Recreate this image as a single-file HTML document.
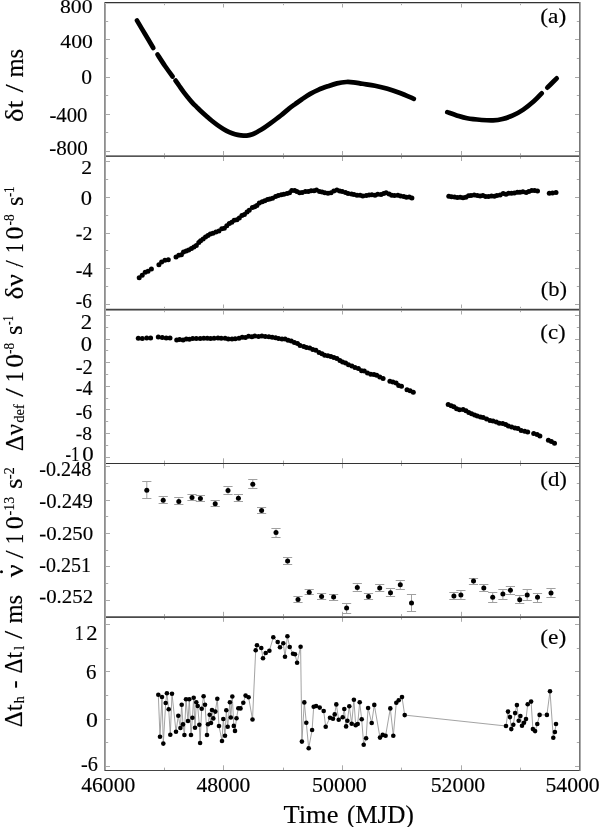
<!DOCTYPE html>
<html><head><meta charset="utf-8"><style>
html,body{margin:0;padding:0;background:#fff;width:600px;height:827px;overflow:hidden;}
body{position:relative;font-family:"Liberation Serif",serif;}
svg{will-change:transform;}
</style></head><body>
<svg width="600" height="827" viewBox="0 0 600 827" style="position:absolute;left:0;top:0"><rect width="600" height="827" fill="#fff"/><path d="M164.5,2.5v2.7M223.5,2.5v5M283.5,2.5v2.7M342.5,2.5v5M401.5,2.5v2.7M461.5,2.5v5M520.5,2.5v2.7M164.5,156.0v-2.7M164.5,156.0v2.7M223.5,156.0v-5M223.5,156.0v5M283.5,156.0v-2.7M283.5,156.0v2.7M342.5,156.0v-5M342.5,156.0v5M401.5,156.0v-2.7M401.5,156.0v2.7M461.5,156.0v-5M461.5,156.0v5M520.5,156.0v-2.7M520.5,156.0v2.7M164.5,309.5v-2.7M164.5,309.5v2.7M223.5,309.5v-5M223.5,309.5v5M283.5,309.5v-2.7M283.5,309.5v2.7M342.5,309.5v-5M342.5,309.5v5M401.5,309.5v-2.7M401.5,309.5v2.7M461.5,309.5v-5M461.5,309.5v5M520.5,309.5v-2.7M520.5,309.5v2.7M164.5,463.3v-2.7M164.5,463.3v2.7M223.5,463.3v-5M223.5,463.3v5M283.5,463.3v-2.7M283.5,463.3v2.7M342.5,463.3v-5M342.5,463.3v5M401.5,463.3v-2.7M401.5,463.3v2.7M461.5,463.3v-5M461.5,463.3v5M520.5,463.3v-2.7M520.5,463.3v2.7M164.5,616.8v-2.7M164.5,616.8v2.7M223.5,616.8v-5M223.5,616.8v5M283.5,616.8v-2.7M283.5,616.8v2.7M342.5,616.8v-5M342.5,616.8v5M401.5,616.8v-2.7M401.5,616.8v2.7M461.5,616.8v-5M461.5,616.8v5M520.5,616.8v-2.7M520.5,616.8v2.7M164.5,770.3v-2.7M223.5,770.3v-5M283.5,770.3v-2.7M342.5,770.3v-5M401.5,770.3v-2.7M461.5,770.3v-5M520.5,770.3v-2.7M106,2.5h4M579,2.5h-4M106,21.5h2.2M579,21.5h-2.2M106,39.5h4M579,39.5h-4M106,58.5h2.2M579,58.5h-2.2M106,77.5h4M579,77.5h-4M106,95.5h2.2M579,95.5h-2.2M106,114.5h4M579,114.5h-4M106,132.5h2.2M579,132.5h-2.2M106,151.5h4M579,151.5h-4M106,161.5h4M579,161.5h-4M106,179.5h2.2M579,179.5h-2.2M106,197.5h4M579,197.5h-4M106,215.5h2.2M579,215.5h-2.2M106,233.5h4M579,233.5h-4M106,250.5h2.2M579,250.5h-2.2M106,268.5h4M579,268.5h-4M106,286.5h2.2M579,286.5h-2.2M106,304.5h4M579,304.5h-4M106,315.5h4M579,315.5h-4M106,327.5h2.2M579,327.5h-2.2M106,339.5h4M579,339.5h-4M106,350.5h2.2M579,350.5h-2.2M106,362.5h4M579,362.5h-4M106,374.5h2.2M579,374.5h-2.2M106,386.5h4M579,386.5h-4M106,398.5h2.2M579,398.5h-2.2M106,409.5h4M579,409.5h-4M106,421.5h2.2M579,421.5h-2.2M106,433.5h4M579,433.5h-4M106,445.5h2.2M579,445.5h-2.2M106,457.5h4M579,457.5h-4M106,466.5h4M579,466.5h-4M106,483.5h2.2M579,483.5h-2.2M106,500.5h4M579,500.5h-4M106,516.5h2.2M579,516.5h-2.2M106,533.5h4M579,533.5h-4M106,550.5h2.2M579,550.5h-2.2M106,566.5h4M579,566.5h-4M106,583.5h2.2M579,583.5h-2.2M106,600.5h4M579,600.5h-4M106,624.5h4M579,624.5h-4M106,648.5h2.2M579,648.5h-2.2M106,671.5h4M579,671.5h-4M106,695.5h2.2M579,695.5h-2.2M106,719.5h4M579,719.5h-4M106,742.5h2.2M579,742.5h-2.2M106,766.5h4M579,766.5h-4" stroke="#aaa" stroke-width="1" fill="none"/><rect x="104" y="2" width="477" height="1" fill="#333"/><rect x="104" y="3" width="477" height="1" fill="#c8c8c8"/><rect x="104" y="155" width="477" height="1" fill="#8c8c8c"/><rect x="104" y="156" width="477" height="1" fill="#555"/><rect x="104" y="308" width="477" height="1" fill="#d0d0d0"/><rect x="104" y="309" width="477" height="1" fill="#444"/><rect x="104" y="310" width="477" height="1" fill="#9a9a9a"/><rect x="104" y="463" width="477" height="1" fill="#333"/><rect x="104" y="616" width="477" height="1" fill="#777"/><rect x="104" y="617" width="477" height="1" fill="#4a4a4a"/><rect x="104" y="770" width="477" height="1" fill="#444"/><rect x="104" y="2" width="1" height="769" fill="#8e8e8e"/><rect x="105" y="4" width="1" height="766" fill="#a4a4a4"/><rect x="579" y="2" width="1" height="769" fill="#777"/><rect x="580" y="2" width="1" height="769" fill="#aaa"/><path d="M136.90,20.40C138.25,22.67 142.27,29.40 145.00,34.00C147.73,38.60 151.92,45.67 153.30,48.00" stroke="#000" stroke-width="4.7" stroke-linecap="round" fill="none"/><path d="M157.50,54.50C158.75,56.42 162.48,62.33 165.00,66.00C167.52,69.67 171.33,74.75 172.60,76.50" stroke="#000" stroke-width="4.7" stroke-linecap="round" fill="none"/><path d="M175.60,80.60C176.17,81.42 177.68,83.62 179.00,85.50C180.32,87.38 182.00,89.90 183.50,91.90C185.00,93.90 186.50,95.68 188.00,97.50C189.50,99.32 191.00,101.17 192.50,102.80C194.00,104.43 195.58,105.90 197.00,107.30C198.42,108.70 199.45,109.75 201.00,111.20C202.55,112.65 204.50,114.40 206.30,116.00C208.10,117.60 209.93,119.28 211.80,120.80C213.67,122.32 215.58,123.75 217.50,125.10C219.42,126.45 221.35,127.73 223.30,128.90C225.25,130.07 227.25,131.22 229.20,132.10C231.15,132.98 233.07,133.67 235.00,134.20C236.93,134.73 238.85,135.07 240.80,135.30C242.75,135.53 244.75,135.78 246.70,135.60C248.65,135.42 250.57,134.92 252.50,134.20C254.43,133.48 256.35,132.37 258.30,131.30C260.25,130.23 262.25,129.07 264.20,127.80C266.15,126.53 267.23,125.75 270.00,123.70C272.77,121.65 277.63,118.02 280.80,115.50C283.97,112.98 286.55,110.55 289.00,108.60C291.45,106.65 293.33,105.37 295.50,103.80C297.67,102.23 299.55,100.85 302.00,99.20C304.45,97.55 307.48,95.47 310.20,93.90C312.92,92.33 315.38,91.07 318.30,89.80C321.22,88.53 324.58,87.37 327.70,86.30C330.82,85.23 333.90,84.12 337.00,83.40C340.10,82.68 343.58,82.18 346.30,82.00C349.02,81.82 350.60,82.00 353.30,82.30C356.00,82.60 358.88,83.22 362.50,83.80C366.12,84.38 370.83,84.97 375.00,85.80C379.17,86.63 383.33,87.60 387.50,88.80C391.67,90.00 395.62,91.33 400.00,93.00C404.38,94.67 411.50,97.83 413.80,98.80" stroke="#000" stroke-width="4.7" stroke-linecap="round" fill="none"/><path d="M447.30,112.10C448.87,112.65 453.40,114.37 456.70,115.40C460.00,116.43 462.93,117.53 467.10,118.30C471.27,119.07 477.37,119.65 481.70,120.00C486.03,120.35 489.63,120.57 493.10,120.40C496.57,120.23 499.20,119.83 502.50,119.00C505.80,118.17 509.43,116.97 512.90,115.40C516.37,113.83 519.82,111.95 523.30,109.60C526.78,107.25 530.73,104.02 533.80,101.30C536.87,98.58 540.38,94.63 541.70,93.30" stroke="#000" stroke-width="4.7" stroke-linecap="round" fill="none"/><path d="M547.30,87.70C548.08,86.92 550.43,84.57 552.00,83.00C553.57,81.43 555.92,79.08 556.70,78.30" stroke="#000" stroke-width="4.7" stroke-linecap="round" fill="none"/><g fill="#000"><circle cx="139.2" cy="277.7" r="2.5"/><circle cx="142.2" cy="275.2" r="2.5"/><circle cx="145.2" cy="272.3" r="2.5"/><circle cx="148.0" cy="271.2" r="2.5"/><circle cx="151.4" cy="268.9" r="2.5"/><circle cx="158.9" cy="264.7" r="2.5"/><circle cx="161.6" cy="262.1" r="2.5"/><circle cx="164.9" cy="260.3" r="2.5"/><circle cx="168.3" cy="259.7" r="2.5"/><circle cx="176.0" cy="257.0" r="2.5"/><circle cx="178.8" cy="255.3" r="2.5"/><circle cx="181.4" cy="254.7" r="2.5"/><circle cx="183.5" cy="252.0" r="2.5"/><circle cx="186.2" cy="251.0" r="2.5"/><circle cx="188.7" cy="250.0" r="2.5"/><circle cx="191.4" cy="248.5" r="2.5"/><circle cx="193.9" cy="246.9" r="2.5"/><circle cx="196.3" cy="245.5" r="2.5"/><circle cx="198.8" cy="242.6" r="2.5"/><circle cx="200.6" cy="240.8" r="2.5"/><circle cx="203.1" cy="239.1" r="2.5"/><circle cx="205.5" cy="237.0" r="2.5"/><circle cx="207.9" cy="235.4" r="2.5"/><circle cx="210.3" cy="234.1" r="2.5"/><circle cx="212.9" cy="233.2" r="2.5"/><circle cx="215.9" cy="232.0" r="2.5"/><circle cx="218.9" cy="231.1" r="2.5"/><circle cx="221.8" cy="228.8" r="2.5"/><circle cx="224.3" cy="228.2" r="2.5"/><circle cx="226.8" cy="225.8" r="2.5"/><circle cx="229.3" cy="223.5" r="2.5"/><circle cx="231.8" cy="222.3" r="2.5"/><circle cx="234.2" cy="220.2" r="2.5"/><circle cx="236.9" cy="219.8" r="2.5"/><circle cx="239.3" cy="217.9" r="2.5"/><circle cx="241.9" cy="215.5" r="2.5"/><circle cx="244.4" cy="214.5" r="2.5"/><circle cx="247.0" cy="212.0" r="2.5"/><circle cx="249.2" cy="210.3" r="2.5"/><circle cx="252.4" cy="207.6" r="2.5"/><circle cx="254.7" cy="206.8" r="2.5"/><circle cx="256.9" cy="205.4" r="2.5"/><circle cx="259.3" cy="203.1" r="2.5"/><circle cx="262.2" cy="201.7" r="2.5"/><circle cx="264.8" cy="200.8" r="2.5"/><circle cx="267.5" cy="199.4" r="2.5"/><circle cx="269.8" cy="199.1" r="2.5"/><circle cx="272.5" cy="198.2" r="2.5"/><circle cx="275.6" cy="196.4" r="2.5"/><circle cx="278.3" cy="195.5" r="2.5"/><circle cx="281.3" cy="194.8" r="2.5"/><circle cx="283.9" cy="194.2" r="2.5"/><circle cx="287.0" cy="193.4" r="2.5"/><circle cx="289.5" cy="192.7" r="2.5"/><circle cx="291.8" cy="190.5" r="2.5"/><circle cx="294.7" cy="190.6" r="2.5"/><circle cx="296.9" cy="191.4" r="2.5"/><circle cx="299.6" cy="192.7" r="2.5"/><circle cx="302.2" cy="192.5" r="2.5"/><circle cx="305.4" cy="191.4" r="2.5"/><circle cx="308.3" cy="191.4" r="2.5"/><circle cx="311.1" cy="190.7" r="2.5"/><circle cx="314.0" cy="190.8" r="2.5"/><circle cx="316.5" cy="189.9" r="2.5"/><circle cx="319.5" cy="191.5" r="2.5"/><circle cx="322.1" cy="191.9" r="2.5"/><circle cx="324.9" cy="192.8" r="2.5"/><circle cx="328.0" cy="193.2" r="2.5"/><circle cx="331.0" cy="192.7" r="2.5"/><circle cx="333.8" cy="191.1" r="2.5"/><circle cx="336.9" cy="189.9" r="2.5"/><circle cx="339.7" cy="191.0" r="2.5"/><circle cx="342.3" cy="191.4" r="2.5"/><circle cx="345.5" cy="192.6" r="2.5"/><circle cx="348.1" cy="193.6" r="2.5"/><circle cx="351.5" cy="193.9" r="2.5"/><circle cx="354.0" cy="194.6" r="2.5"/><circle cx="357.0" cy="195.2" r="2.5"/><circle cx="360.1" cy="195.2" r="2.5"/><circle cx="362.8" cy="195.9" r="2.5"/><circle cx="366.2" cy="195.5" r="2.5"/><circle cx="369.1" cy="194.9" r="2.5"/><circle cx="371.9" cy="194.7" r="2.5"/><circle cx="375.0" cy="195.3" r="2.5"/><circle cx="377.7" cy="194.3" r="2.5"/><circle cx="381.0" cy="194.4" r="2.5"/><circle cx="383.7" cy="193.4" r="2.5"/><circle cx="386.1" cy="192.8" r="2.5"/><circle cx="389.1" cy="194.0" r="2.5"/><circle cx="391.7" cy="195.3" r="2.5"/><circle cx="394.5" cy="195.6" r="2.5"/><circle cx="397.9" cy="195.2" r="2.5"/><circle cx="400.6" cy="196.1" r="2.5"/><circle cx="403.8" cy="196.6" r="2.5"/><circle cx="406.4" cy="197.3" r="2.5"/><circle cx="409.3" cy="197.0" r="2.5"/><circle cx="411.9" cy="198.1" r="2.5"/><circle cx="448.8" cy="196.3" r="2.5"/><circle cx="451.5" cy="196.7" r="2.5"/><circle cx="454.5" cy="196.9" r="2.5"/><circle cx="457.3" cy="197.5" r="2.5"/><circle cx="460.2" cy="197.3" r="2.5"/><circle cx="463.0" cy="197.7" r="2.5"/><circle cx="465.8" cy="197.2" r="2.5"/><circle cx="468.5" cy="195.7" r="2.5"/><circle cx="471.0" cy="195.4" r="2.5"/><circle cx="474.2" cy="194.9" r="2.5"/><circle cx="477.3" cy="195.4" r="2.5"/><circle cx="480.1" cy="196.1" r="2.5"/><circle cx="482.9" cy="195.5" r="2.5"/><circle cx="485.6" cy="196.4" r="2.5"/><circle cx="488.5" cy="196.6" r="2.5"/><circle cx="491.5" cy="196.0" r="2.5"/><circle cx="494.4" cy="196.3" r="2.5"/><circle cx="496.9" cy="195.4" r="2.5"/><circle cx="500.1" cy="194.9" r="2.5"/><circle cx="503.2" cy="193.5" r="2.5"/><circle cx="506.0" cy="194.2" r="2.5"/><circle cx="508.6" cy="193.2" r="2.5"/><circle cx="511.5" cy="193.2" r="2.5"/><circle cx="514.4" cy="193.0" r="2.5"/><circle cx="517.4" cy="192.2" r="2.5"/><circle cx="520.0" cy="192.2" r="2.5"/><circle cx="522.9" cy="191.8" r="2.5"/><circle cx="526.2" cy="192.4" r="2.5"/><circle cx="528.8" cy="191.4" r="2.5"/><circle cx="531.7" cy="190.5" r="2.5"/><circle cx="534.6" cy="190.6" r="2.5"/><circle cx="537.5" cy="190.9" r="2.5"/><circle cx="549.3" cy="193.2" r="2.5"/><circle cx="552.5" cy="193.1" r="2.5"/><circle cx="556.0" cy="192.5" r="2.5"/></g><g fill="#000"><circle cx="138.3" cy="338.2" r="2.5"/><circle cx="142.3" cy="338.5" r="2.5"/><circle cx="146.7" cy="338.0" r="2.5"/><circle cx="150.6" cy="338.0" r="2.5"/><circle cx="158.3" cy="337.0" r="2.5"/><circle cx="162.3" cy="337.6" r="2.5"/><circle cx="166.2" cy="338.0" r="2.5"/><circle cx="170.0" cy="337.9" r="2.5"/><circle cx="176.7" cy="339.9" r="2.5"/><circle cx="179.6" cy="339.5" r="2.5"/><circle cx="183.1" cy="339.9" r="2.5"/><circle cx="186.3" cy="339.1" r="2.5"/><circle cx="189.4" cy="339.3" r="2.5"/><circle cx="192.7" cy="338.6" r="2.5"/><circle cx="196.3" cy="338.6" r="2.5"/><circle cx="200.2" cy="338.5" r="2.5"/><circle cx="203.8" cy="338.2" r="2.5"/><circle cx="207.3" cy="338.3" r="2.5"/><circle cx="210.6" cy="338.5" r="2.5"/><circle cx="214.1" cy="338.2" r="2.5"/><circle cx="218.0" cy="338.1" r="2.5"/><circle cx="221.2" cy="338.2" r="2.5"/><circle cx="225.1" cy="338.3" r="2.5"/><circle cx="228.3" cy="339.0" r="2.5"/><circle cx="232.0" cy="338.9" r="2.5"/><circle cx="235.2" cy="338.7" r="2.5"/><circle cx="239.0" cy="338.2" r="2.5"/><circle cx="242.2" cy="337.3" r="2.5"/><circle cx="245.4" cy="337.4" r="2.5"/><circle cx="248.6" cy="336.3" r="2.5"/><circle cx="251.9" cy="336.8" r="2.5"/><circle cx="254.8" cy="335.9" r="2.5"/><circle cx="258.5" cy="336.5" r="2.5"/><circle cx="261.9" cy="335.9" r="2.5"/><circle cx="265.3" cy="336.6" r="2.5"/><circle cx="268.9" cy="336.7" r="2.5"/><circle cx="272.2" cy="337.2" r="2.5"/><circle cx="275.6" cy="337.8" r="2.5"/><circle cx="278.6" cy="338.4" r="2.5"/><circle cx="282.0" cy="338.9" r="2.5"/><circle cx="285.1" cy="339.1" r="2.5"/><circle cx="288.1" cy="340.2" r="2.5"/><circle cx="291.3" cy="340.9" r="2.5"/><circle cx="294.4" cy="342.6" r="2.5"/><circle cx="297.5" cy="343.4" r="2.5"/><circle cx="300.1" cy="345.4" r="2.5"/><circle cx="303.8" cy="346.4" r="2.5"/><circle cx="306.5" cy="347.6" r="2.5"/><circle cx="309.7" cy="348.1" r="2.5"/><circle cx="312.8" cy="349.5" r="2.5"/><circle cx="315.9" cy="350.3" r="2.5"/><circle cx="319.1" cy="352.5" r="2.5"/><circle cx="322.0" cy="353.7" r="2.5"/><circle cx="324.7" cy="355.2" r="2.5"/><circle cx="327.9" cy="355.8" r="2.5"/><circle cx="330.9" cy="356.4" r="2.5"/><circle cx="333.9" cy="357.6" r="2.5"/><circle cx="336.9" cy="358.5" r="2.5"/><circle cx="339.9" cy="360.4" r="2.5"/><circle cx="342.6" cy="362.0" r="2.5"/><circle cx="345.6" cy="363.0" r="2.5"/><circle cx="348.5" cy="364.7" r="2.5"/><circle cx="351.9" cy="365.9" r="2.5"/><circle cx="355.0" cy="367.6" r="2.5"/><circle cx="358.4" cy="368.6" r="2.5"/><circle cx="361.6" cy="370.7" r="2.5"/><circle cx="364.3" cy="371.0" r="2.5"/><circle cx="367.5" cy="372.9" r="2.5"/><circle cx="370.8" cy="374.3" r="2.5"/><circle cx="374.0" cy="374.4" r="2.5"/><circle cx="376.7" cy="375.3" r="2.5"/><circle cx="379.8" cy="376.9" r="2.5"/><circle cx="383.1" cy="378.6" r="2.5"/><circle cx="389.9" cy="381.2" r="2.5"/><circle cx="392.9" cy="382.0" r="2.5"/><circle cx="396.1" cy="383.0" r="2.5"/><circle cx="398.7" cy="385.4" r="2.5"/><circle cx="401.5" cy="386.2" r="2.5"/><circle cx="407.0" cy="389.8" r="2.5"/><circle cx="410.1" cy="390.8" r="2.5"/><circle cx="413.3" cy="392.3" r="2.5"/><circle cx="448.2" cy="404.5" r="2.5"/><circle cx="451.2" cy="405.7" r="2.5"/><circle cx="453.9" cy="406.8" r="2.5"/><circle cx="456.6" cy="408.7" r="2.5"/><circle cx="459.5" cy="409.8" r="2.5"/><circle cx="463.1" cy="409.5" r="2.5"/><circle cx="466.0" cy="410.8" r="2.5"/><circle cx="468.8" cy="412.5" r="2.5"/><circle cx="471.6" cy="413.7" r="2.5"/><circle cx="474.6" cy="415.1" r="2.5"/><circle cx="477.3" cy="416.0" r="2.5"/><circle cx="480.5" cy="417.0" r="2.5"/><circle cx="483.2" cy="417.4" r="2.5"/><circle cx="486.6" cy="418.9" r="2.5"/><circle cx="490.0" cy="420.5" r="2.5"/><circle cx="493.0" cy="420.9" r="2.5"/><circle cx="496.4" cy="421.9" r="2.5"/><circle cx="499.3" cy="423.2" r="2.5"/><circle cx="502.7" cy="423.4" r="2.5"/><circle cx="505.7" cy="424.4" r="2.5"/><circle cx="508.4" cy="426.1" r="2.5"/><circle cx="511.7" cy="426.9" r="2.5"/><circle cx="515.0" cy="427.9" r="2.5"/><circle cx="518.0" cy="428.6" r="2.5"/><circle cx="521.2" cy="430.4" r="2.5"/><circle cx="524.7" cy="431.3" r="2.5"/><circle cx="527.7" cy="432.0" r="2.5"/><circle cx="533.7" cy="433.4" r="2.5"/><circle cx="537.1" cy="434.4" r="2.5"/><circle cx="539.9" cy="435.9" r="2.5"/><circle cx="548.4" cy="440.2" r="2.5"/><circle cx="551.4" cy="441.6" r="2.5"/><circle cx="554.5" cy="443.2" r="2.5"/></g><path d="M146.8,481.5V498.5M142.2,481.5h9.2M142.2,498.5h9.2M163.2,496.5V503.5M158.6,496.5h9.2M158.6,503.5h9.2M178.8,497.5V504.5M174.2,497.5h9.2M174.2,504.5h9.2M192.0,494.5V500.5M187.4,494.5h9.2M187.4,500.5h9.2M200.4,495.5V501.5M195.8,495.5h9.2M195.8,501.5h9.2M215.2,500.5V506.5M210.6,500.5h9.2M210.6,506.5h9.2M228.0,486.5V494.5M223.4,486.5h9.2M223.4,494.5h9.2M238.4,494.5V501.5M233.8,494.5h9.2M233.8,501.5h9.2M252.8,479.5V488.5M248.2,479.5h9.2M248.2,488.5h9.2M261.6,507.5V513.5M257.0,507.5h9.2M257.0,513.5h9.2M276.0,528.5V537.5M271.4,528.5h9.2M271.4,537.5h9.2M287.6,557.5V564.5M283.0,557.5h9.2M283.0,564.5h9.2M298.0,596.5V602.5M293.4,596.5h9.2M293.4,602.5h9.2M309.2,589.5V594.5M304.6,589.5h9.2M304.6,594.5h9.2M321.6,593.5V599.5M317.0,593.5h9.2M317.0,599.5h9.2M333.6,594.5V600.5M329.0,594.5h9.2M329.0,600.5h9.2M346.6,603.5V613.5M342.0,603.5h9.2M342.0,613.5h9.2M357.3,583.5V591.5M352.7,583.5h9.2M352.7,591.5h9.2M368.5,593.5V599.5M363.9,593.5h9.2M363.9,599.5h9.2M379.7,584.5V591.5M375.1,584.5h9.2M375.1,591.5h9.2M390.5,588.5V596.5M385.9,588.5h9.2M385.9,596.5h9.2M400.3,580.5V589.5M395.7,580.5h9.2M395.7,589.5h9.2M411.5,594.5V611.5M406.9,594.5h9.2M406.9,611.5h9.2M453.9,592.5V599.5M449.3,592.5h9.2M449.3,599.5h9.2M460.9,590.5V599.5M456.3,590.5h9.2M456.3,599.5h9.2M473.5,578.5V584.5M468.9,578.5h9.2M468.9,584.5h9.2M483.8,584.5V591.5M479.2,584.5h9.2M479.2,591.5h9.2M492.7,592.5V602.5M488.1,592.5h9.2M488.1,602.5h9.2M502.9,589.5V599.5M498.3,589.5h9.2M498.3,599.5h9.2M510.4,586.5V594.5M505.8,586.5h9.2M505.8,594.5h9.2M519.7,595.5V603.5M515.1,595.5h9.2M515.1,603.5h9.2M527.2,589.5V600.5M522.6,589.5h9.2M522.6,600.5h9.2M537.5,593.5V602.5M532.9,593.5h9.2M532.9,602.5h9.2M551.0,588.5V597.5M546.4,588.5h9.2M546.4,597.5h9.2" stroke="#a0a0a0" stroke-width="1" fill="none"/><g fill="#000"><circle cx="146.8" cy="490.2" r="2.5"/><circle cx="163.2" cy="500.2" r="2.5"/><circle cx="178.8" cy="501.4" r="2.5"/><circle cx="192.0" cy="497.4" r="2.5"/><circle cx="200.4" cy="498.6" r="2.5"/><circle cx="215.2" cy="503.8" r="2.5"/><circle cx="228.0" cy="490.6" r="2.5"/><circle cx="238.4" cy="498.2" r="2.5"/><circle cx="252.8" cy="484.2" r="2.5"/><circle cx="261.6" cy="510.6" r="2.5"/><circle cx="276.0" cy="532.6" r="2.5"/><circle cx="287.6" cy="561.0" r="2.5"/><circle cx="298.0" cy="599.4" r="2.5"/><circle cx="309.2" cy="592.2" r="2.5"/><circle cx="321.6" cy="596.6" r="2.5"/><circle cx="333.6" cy="597.0" r="2.5"/><circle cx="346.6" cy="608.1" r="2.5"/><circle cx="357.3" cy="587.5" r="2.5"/><circle cx="368.5" cy="596.4" r="2.5"/><circle cx="379.7" cy="588.0" r="2.5"/><circle cx="390.5" cy="592.7" r="2.5"/><circle cx="400.3" cy="584.7" r="2.5"/><circle cx="411.5" cy="602.9" r="2.5"/><circle cx="453.9" cy="595.9" r="2.5"/><circle cx="460.9" cy="595.0" r="2.5"/><circle cx="473.5" cy="581.0" r="2.5"/><circle cx="483.8" cy="588.0" r="2.5"/><circle cx="492.7" cy="597.3" r="2.5"/><circle cx="502.9" cy="594.0" r="2.5"/><circle cx="510.4" cy="590.3" r="2.5"/><circle cx="519.7" cy="599.7" r="2.5"/><circle cx="527.2" cy="595.0" r="2.5"/><circle cx="537.5" cy="597.3" r="2.5"/><circle cx="551.0" cy="593.1" r="2.5"/></g><path d="M158.3,694.7L160.0,736.7L162.0,697.0L163.3,743.6L165.7,703.0L166.9,693.3L168.7,709.3L170.3,734.7L172.0,693.7L176.0,731.7L178.3,715.7L180.4,728.0L181.7,704.8L183.0,724.4L184.4,735.0L186.0,699.3L188.0,721.0L189.3,699.3L191.0,735.0L192.4,717.7L193.7,697.7L195.0,727.7L196.3,702.3L197.7,706.0L199.3,724.7L200.1,743.0L201.7,708.7L203.6,696.3L205.0,704.7L207.0,735.0L208.0,724.3L209.7,714.7L211.0,723.0L212.0,710.0L213.3,718.4L215.3,711.6L217.3,698.7L219.0,726.0L222.0,741.0L223.3,719.0L225.0,735.7L226.3,710.3L227.7,726.7L229.9,702.2L230.8,717.5L232.3,696.5L233.8,725.9L235.0,730.9L236.5,718.3L238.3,708.3L240.5,708.4L243.3,702.8L245.6,695.6L248.6,697.3L252.5,719.5L255.7,650.3L257.0,645.3L261.3,648.0L263.0,658.3L265.7,653.0L269.4,650.7L273.3,637.3L277.7,642.0L280.0,647.3L283.3,643.3L285.0,656.7L287.4,636.3L289.7,647.0L293.0,653.7L295.0,654.3L297.1,662.7L300.6,646.8L301.9,741.6L304.3,702.4L306.3,722.7L308.7,748.3L312.1,730.0L313.7,706.7L316.1,706.0L319.7,707.6L323.7,711.0L325.7,726.7L330.0,717.7L333.0,718.7L334.7,714.4L336.3,704.4L338.7,719.7L342.7,717.3L344.3,709.0L346.1,726.4L347.4,720.7L349.3,706.3L351.7,723.7L353.9,699.7L355.7,725.3L357.7,724.0L359.7,702.3L361.7,719.3L363.7,744.7L366.1,738.3L368.1,708.0L371.7,723.0L374.3,704.9L380.0,737.6L382.7,734.9L385.6,735.7L390.3,708.4L393.3,735.7L396.3,702.7L398.7,700.3L402.0,697.1L404.7,715.1L506.0,726.0L508.0,711.6L510.0,717.1L511.3,729.1L513.3,724.7L515.1,713.1L516.9,705.1L518.7,720.7L520.4,716.0L522.0,725.7L524.0,722.7L526.0,719.1L527.7,704.3L531.1,701.6L532.9,729.1L535.1,731.1L537.3,724.0L539.6,714.9L546.9,714.9L550.0,691.3L553.3,737.7L554.9,732.0L556.0,724.0" stroke="#999" stroke-width="0.9" fill="none"/><g fill="#000"><circle cx="158.3" cy="694.7" r="2.3"/><circle cx="160.0" cy="736.7" r="2.3"/><circle cx="162.0" cy="697.0" r="2.3"/><circle cx="163.3" cy="743.6" r="2.3"/><circle cx="165.7" cy="703.0" r="2.3"/><circle cx="166.9" cy="693.3" r="2.3"/><circle cx="168.7" cy="709.3" r="2.3"/><circle cx="170.3" cy="734.7" r="2.3"/><circle cx="172.0" cy="693.7" r="2.3"/><circle cx="176.0" cy="731.7" r="2.3"/><circle cx="178.3" cy="715.7" r="2.3"/><circle cx="180.4" cy="728.0" r="2.3"/><circle cx="181.7" cy="704.8" r="2.3"/><circle cx="183.0" cy="724.4" r="2.3"/><circle cx="184.4" cy="735.0" r="2.3"/><circle cx="186.0" cy="699.3" r="2.3"/><circle cx="188.0" cy="721.0" r="2.3"/><circle cx="189.3" cy="699.3" r="2.3"/><circle cx="191.0" cy="735.0" r="2.3"/><circle cx="192.4" cy="717.7" r="2.3"/><circle cx="193.7" cy="697.7" r="2.3"/><circle cx="195.0" cy="727.7" r="2.3"/><circle cx="196.3" cy="702.3" r="2.3"/><circle cx="197.7" cy="706.0" r="2.3"/><circle cx="199.3" cy="724.7" r="2.3"/><circle cx="200.1" cy="743.0" r="2.3"/><circle cx="201.7" cy="708.7" r="2.3"/><circle cx="203.6" cy="696.3" r="2.3"/><circle cx="205.0" cy="704.7" r="2.3"/><circle cx="207.0" cy="735.0" r="2.3"/><circle cx="208.0" cy="724.3" r="2.3"/><circle cx="209.7" cy="714.7" r="2.3"/><circle cx="211.0" cy="723.0" r="2.3"/><circle cx="212.0" cy="710.0" r="2.3"/><circle cx="213.3" cy="718.4" r="2.3"/><circle cx="215.3" cy="711.6" r="2.3"/><circle cx="217.3" cy="698.7" r="2.3"/><circle cx="219.0" cy="726.0" r="2.3"/><circle cx="222.0" cy="741.0" r="2.3"/><circle cx="223.3" cy="719.0" r="2.3"/><circle cx="225.0" cy="735.7" r="2.3"/><circle cx="226.3" cy="710.3" r="2.3"/><circle cx="227.7" cy="726.7" r="2.3"/><circle cx="229.9" cy="702.2" r="2.3"/><circle cx="230.8" cy="717.5" r="2.3"/><circle cx="232.3" cy="696.5" r="2.3"/><circle cx="233.8" cy="725.9" r="2.3"/><circle cx="235.0" cy="730.9" r="2.3"/><circle cx="236.5" cy="718.3" r="2.3"/><circle cx="238.3" cy="708.3" r="2.3"/><circle cx="240.5" cy="708.4" r="2.3"/><circle cx="243.3" cy="702.8" r="2.3"/><circle cx="245.6" cy="695.6" r="2.3"/><circle cx="248.6" cy="697.3" r="2.3"/><circle cx="252.5" cy="719.5" r="2.3"/><circle cx="255.7" cy="650.3" r="2.3"/><circle cx="257.0" cy="645.3" r="2.3"/><circle cx="261.3" cy="648.0" r="2.3"/><circle cx="263.0" cy="658.3" r="2.3"/><circle cx="265.7" cy="653.0" r="2.3"/><circle cx="269.4" cy="650.7" r="2.3"/><circle cx="273.3" cy="637.3" r="2.3"/><circle cx="277.7" cy="642.0" r="2.3"/><circle cx="280.0" cy="647.3" r="2.3"/><circle cx="283.3" cy="643.3" r="2.3"/><circle cx="285.0" cy="656.7" r="2.3"/><circle cx="287.4" cy="636.3" r="2.3"/><circle cx="289.7" cy="647.0" r="2.3"/><circle cx="293.0" cy="653.7" r="2.3"/><circle cx="295.0" cy="654.3" r="2.3"/><circle cx="297.1" cy="662.7" r="2.3"/><circle cx="300.6" cy="646.8" r="2.3"/><circle cx="301.9" cy="741.6" r="2.3"/><circle cx="304.3" cy="702.4" r="2.3"/><circle cx="306.3" cy="722.7" r="2.3"/><circle cx="308.7" cy="748.3" r="2.3"/><circle cx="312.1" cy="730.0" r="2.3"/><circle cx="313.7" cy="706.7" r="2.3"/><circle cx="316.1" cy="706.0" r="2.3"/><circle cx="319.7" cy="707.6" r="2.3"/><circle cx="323.7" cy="711.0" r="2.3"/><circle cx="325.7" cy="726.7" r="2.3"/><circle cx="330.0" cy="717.7" r="2.3"/><circle cx="333.0" cy="718.7" r="2.3"/><circle cx="334.7" cy="714.4" r="2.3"/><circle cx="336.3" cy="704.4" r="2.3"/><circle cx="338.7" cy="719.7" r="2.3"/><circle cx="342.7" cy="717.3" r="2.3"/><circle cx="344.3" cy="709.0" r="2.3"/><circle cx="346.1" cy="726.4" r="2.3"/><circle cx="347.4" cy="720.7" r="2.3"/><circle cx="349.3" cy="706.3" r="2.3"/><circle cx="351.7" cy="723.7" r="2.3"/><circle cx="353.9" cy="699.7" r="2.3"/><circle cx="355.7" cy="725.3" r="2.3"/><circle cx="357.7" cy="724.0" r="2.3"/><circle cx="359.7" cy="702.3" r="2.3"/><circle cx="361.7" cy="719.3" r="2.3"/><circle cx="363.7" cy="744.7" r="2.3"/><circle cx="366.1" cy="738.3" r="2.3"/><circle cx="368.1" cy="708.0" r="2.3"/><circle cx="371.7" cy="723.0" r="2.3"/><circle cx="374.3" cy="704.9" r="2.3"/><circle cx="380.0" cy="737.6" r="2.3"/><circle cx="382.7" cy="734.9" r="2.3"/><circle cx="385.6" cy="735.7" r="2.3"/><circle cx="390.3" cy="708.4" r="2.3"/><circle cx="393.3" cy="735.7" r="2.3"/><circle cx="396.3" cy="702.7" r="2.3"/><circle cx="398.7" cy="700.3" r="2.3"/><circle cx="402.0" cy="697.1" r="2.3"/><circle cx="404.7" cy="715.1" r="2.3"/><circle cx="506.0" cy="726.0" r="2.3"/><circle cx="508.0" cy="711.6" r="2.3"/><circle cx="510.0" cy="717.1" r="2.3"/><circle cx="511.3" cy="729.1" r="2.3"/><circle cx="513.3" cy="724.7" r="2.3"/><circle cx="515.1" cy="713.1" r="2.3"/><circle cx="516.9" cy="705.1" r="2.3"/><circle cx="518.7" cy="720.7" r="2.3"/><circle cx="520.4" cy="716.0" r="2.3"/><circle cx="522.0" cy="725.7" r="2.3"/><circle cx="524.0" cy="722.7" r="2.3"/><circle cx="526.0" cy="719.1" r="2.3"/><circle cx="527.7" cy="704.3" r="2.3"/><circle cx="531.1" cy="701.6" r="2.3"/><circle cx="532.9" cy="729.1" r="2.3"/><circle cx="535.1" cy="731.1" r="2.3"/><circle cx="537.3" cy="724.0" r="2.3"/><circle cx="539.6" cy="714.9" r="2.3"/><circle cx="546.9" cy="714.9" r="2.3"/><circle cx="550.0" cy="691.3" r="2.3"/><circle cx="553.3" cy="737.7" r="2.3"/><circle cx="554.9" cy="732.0" r="2.3"/><circle cx="556.0" cy="724.0" r="2.3"/></g><text transform="matrix(1.0929,0,0,1,59.97,13.31)" font-size="19.86" style="font-family:'Liberation Serif',serif;stroke:#000;stroke-width:0.15px">800</text><text transform="matrix(1.0928,0,0,1,60.28,47.91)" font-size="19.86" style="font-family:'Liberation Serif',serif;stroke:#000;stroke-width:0.15px">400</text><text transform="matrix(1.0712,0,0,1,81.28,84.40)" font-size="20.15" style="font-family:'Liberation Serif',serif;stroke:#000;stroke-width:0.15px">0</text><text transform="matrix(1.0154,0,0,1,49.43,121.90)" font-size="20.45" style="font-family:'Liberation Serif',serif;stroke:#000;stroke-width:0.15px">-400</text><text transform="matrix(1.0358,0,0,1,49.22,154.80)" font-size="20.38" style="font-family:'Liberation Serif',serif;stroke:#000;stroke-width:0.15px">-800</text><text transform="matrix(1.1011,0,0,1,81.15,173.75)" font-size="19.71" style="font-family:'Liberation Serif',serif;stroke:#000;stroke-width:0.15px">2</text><text transform="matrix(1.1180,0,0,1,80.84,205.20)" font-size="20.15" style="font-family:'Liberation Serif',serif;stroke:#000;stroke-width:0.15px">0</text><text transform="matrix(1.0221,0,0,1,75.76,240.00)" font-size="19.48" style="font-family:'Liberation Serif',serif;stroke:#000;stroke-width:0.15px">-2</text><text transform="matrix(0.9748,0,0,1,75.76,276.80)" font-size="20.51" style="font-family:'Liberation Serif',serif;stroke:#000;stroke-width:0.15px">-4</text><text transform="matrix(0.9442,0,0,1,75.79,308.10)" font-size="20.39" style="font-family:'Liberation Serif',serif;stroke:#000;stroke-width:0.15px">-6</text><text transform="matrix(1.1301,0,0,1,80.70,329.30)" font-size="20.09" style="font-family:'Liberation Serif',serif;stroke:#000;stroke-width:0.15px">2</text><text transform="matrix(1.1099,0,0,1,80.84,350.60)" font-size="20.30" style="font-family:'Liberation Serif',serif;stroke:#000;stroke-width:0.15px">0</text><text transform="matrix(1.0064,0,0,1,75.74,373.50)" font-size="20.39" style="font-family:'Liberation Serif',serif;stroke:#000;stroke-width:0.15px">-2</text><text transform="matrix(0.9894,0,0,1,75.76,395.40)" font-size="20.21" style="font-family:'Liberation Serif',serif;stroke:#000;stroke-width:0.15px">-4</text><text transform="matrix(0.9522,0,0,1,75.76,419.00)" font-size="20.84" style="font-family:'Liberation Serif',serif;stroke:#000;stroke-width:0.15px">-6</text><text transform="matrix(0.9875,0,0,1,75.78,439.81)" font-size="19.71" style="font-family:'Liberation Serif',serif;stroke:#000;stroke-width:0.15px">-8</text><text transform="matrix(0.8055,0,0,1,65.38,461.00)" font-size="20.75" style="font-family:'Liberation Serif',serif;stroke:#000;stroke-width:0.15px">-1</text><text transform="matrix(1.1273,0,0,1,82.13,460.80)" font-size="20.30" style="font-family:'Liberation Serif',serif;stroke:#000;stroke-width:0.15px">0</text><text transform="matrix(0.9983,0,0,1,39.25,476.21)" font-size="20.17" style="font-family:'Liberation Serif',serif;stroke:#000;stroke-width:0.15px">-0.248</text><text transform="matrix(1.0071,0,0,1,39.23,508.21)" font-size="20.61" style="font-family:'Liberation Serif',serif;stroke:#000;stroke-width:0.15px">-0.249</text><text transform="matrix(1.0532,0,0,1,39.22,539.72)" font-size="19.88" style="font-family:'Liberation Serif',serif;stroke:#000;stroke-width:0.15px">-0.250</text><text transform="matrix(0.9860,0,0,1,39.26,571.51)" font-size="20.32" style="font-family:'Liberation Serif',serif;stroke:#000;stroke-width:0.15px">-0.251</text><text transform="matrix(1.0504,0,0,1,39.23,602.72)" font-size="19.88" style="font-family:'Liberation Serif',serif;stroke:#000;stroke-width:0.15px">-0.252</text><text transform="matrix(0.8760,0,0,1,74.80,640.00)" font-size="20.75" style="font-family:'Liberation Serif',serif;stroke:#000;stroke-width:0.15px">1</text><text transform="matrix(1.0971,0,0,1,86.20,640.00)" font-size="20.69" style="font-family:'Liberation Serif',serif;stroke:#000;stroke-width:0.15px">2</text><text transform="matrix(0.9997,0,0,1,86.10,678.60)" font-size="20.84" style="font-family:'Liberation Serif',serif;stroke:#000;stroke-width:0.15px">6</text><text transform="matrix(1.1569,0,0,1,85.89,727.30)" font-size="20.60" style="font-family:'Liberation Serif',serif;stroke:#000;stroke-width:0.15px">0</text><text transform="matrix(0.9710,0,0,1,81.00,771.30)" font-size="20.84" style="font-family:'Liberation Serif',serif;stroke:#000;stroke-width:0.15px">-6</text><text transform="matrix(1.0628,0,0,1,81.28,792.20)" font-size="20.30" style="font-family:'Liberation Serif',serif;stroke:#000;stroke-width:0.15px">46000</text><text transform="matrix(1.0608,0,0,1,196.58,792.20)" font-size="20.30" style="font-family:'Liberation Serif',serif;stroke:#000;stroke-width:0.15px">48000</text><text transform="matrix(1.0799,0,0,1,312.03,792.20)" font-size="20.30" style="font-family:'Liberation Serif',serif;stroke:#000;stroke-width:0.15px">50000</text><text transform="matrix(1.0737,0,0,1,430.73,792.20)" font-size="20.30" style="font-family:'Liberation Serif',serif;stroke:#000;stroke-width:0.15px">52000</text><text transform="matrix(1.0696,0,0,1,545.44,792.20)" font-size="20.30" style="font-family:'Liberation Serif',serif;stroke:#000;stroke-width:0.15px">54000</text><text transform="matrix(1.0680,0,0,1,283.52,822.60)" font-size="24.80" style="font-family:'Liberation Serif',serif;stroke:#000;stroke-width:0.15px">Time</text><text transform="matrix(1.0133,0,0,1,346.90,822.60)" font-size="24.80" style="font-family:'Liberation Serif',serif;stroke:#000;stroke-width:0.15px">(MJD)</text><text transform="matrix(1.1387,0,0,1,540.27,22.61)" font-size="20.62" style="font-family:'Liberation Serif',serif;stroke:#000;stroke-width:0.15px">(a)</text><text transform="matrix(1.0756,0,0,1,540.71,296.24)" font-size="20.95" style="font-family:'Liberation Serif',serif;stroke:#000;stroke-width:0.15px">(b)</text><text transform="matrix(1.1102,0,0,1,540.29,338.61)" font-size="20.62" style="font-family:'Liberation Serif',serif;stroke:#000;stroke-width:0.15px">(c)</text><text transform="matrix(1.1109,0,0,1,540.29,485.61)" font-size="20.62" style="font-family:'Liberation Serif',serif;stroke:#000;stroke-width:0.15px">(d)</text><text transform="matrix(1.1387,0,0,1,540.27,643.61)" font-size="20.62" style="font-family:'Liberation Serif',serif;stroke:#000;stroke-width:0.15px">(e)</text><text transform="translate(23.00,122.08) rotate(-90) scale(1.1066,1)" font-size="26.0" style="font-family:'Liberation Serif',serif;stroke:#000;stroke-width:0.15px">δt</text><text transform="translate(23.00,92.40) rotate(-90) scale(1.1352,1)" font-size="26.0" style="font-family:'Liberation Serif',serif;stroke:#000;stroke-width:0.15px">/</text><text transform="translate(23.00,77.51) rotate(-90) scale(0.9426,1)" font-size="26.0" style="font-family:'Liberation Serif',serif;stroke:#000;stroke-width:0.15px">ms</text><text transform="translate(22.90,299.42) rotate(-90) scale(1.0482,1)" font-size="26.0" style="font-family:'Liberation Serif',serif;stroke:#000;stroke-width:0.15px">δν</text><text transform="translate(22.90,267.60) rotate(-90) scale(0.9967,1)" font-size="26.0" style="font-family:'Liberation Serif',serif;stroke:#000;stroke-width:0.15px">/</text><text transform="translate(22.90,253.00) rotate(-90) scale(0.7429,1)" font-size="26.0" style="font-family:'Liberation Serif',serif;stroke:#000;stroke-width:0.15px">1</text><text transform="translate(22.90,239.58) rotate(-90) scale(0.9892,1)" font-size="26.0" style="font-family:'Liberation Serif',serif;stroke:#000;stroke-width:0.15px">0</text><text transform="translate(13.90,225.50) rotate(-90) scale(0.9061,1)" font-size="15.0" style="font-family:'Liberation Serif',serif;stroke:#000;stroke-width:0.15px">-8</text><text transform="translate(22.90,206.00) rotate(-90) scale(0.9368,1)" font-size="26.0" style="font-family:'Liberation Serif',serif;stroke:#000;stroke-width:0.15px">s</text><text transform="translate(13.90,196.96) rotate(-90) scale(0.8245,1)" font-size="15.0" style="font-family:'Liberation Serif',serif;stroke:#000;stroke-width:0.15px">-1</text><text transform="translate(22.50,451.25) rotate(-90) scale(0.9637,1)" font-size="26.0" style="font-family:'Liberation Serif',serif;stroke:#000;stroke-width:0.15px">Δν</text><text transform="translate(24.00,422.73) rotate(-90) scale(0.9779,1)" font-size="15.0" style="font-family:'Liberation Serif',serif;stroke:#000;stroke-width:0.15px">def</text><text transform="translate(22.60,396.80) rotate(-90) scale(1.1905,1)" font-size="26.0" style="font-family:'Liberation Serif',serif;stroke:#000;stroke-width:0.15px">/</text><text transform="translate(22.60,382.22) rotate(-90) scale(0.8412,1)" font-size="26.0" style="font-family:'Liberation Serif',serif;stroke:#000;stroke-width:0.15px">1</text><text transform="translate(22.60,367.76) rotate(-90) scale(1.0708,1)" font-size="26.0" style="font-family:'Liberation Serif',serif;stroke:#000;stroke-width:0.15px">0</text><text transform="translate(13.60,353.99) rotate(-90) scale(0.8797,1)" font-size="15.0" style="font-family:'Liberation Serif',serif;stroke:#000;stroke-width:0.15px">-8</text><text transform="translate(22.40,335.01) rotate(-90) scale(0.9492,1)" font-size="26.0" style="font-family:'Liberation Serif',serif;stroke:#000;stroke-width:0.15px">s</text><text transform="translate(13.30,324.90) rotate(-90) scale(0.7248,1)" font-size="15.0" style="font-family:'Liberation Serif',serif;stroke:#000;stroke-width:0.15px">-1</text><text transform="translate(22.60,577.17) rotate(-90) scale(1.1008,1)" font-size="26.0" style="font-family:'Liberation Serif',serif;stroke:#000;stroke-width:0.15px">ν</text><circle cx="1.5" cy="571.7" r="1.5" fill="#000"/><text transform="translate(22.60,558.50) rotate(-90) scale(1.1213,1)" font-size="26.0" style="font-family:'Liberation Serif',serif;stroke:#000;stroke-width:0.15px">/</text><text transform="translate(22.60,544.00) rotate(-90) scale(0.7866,1)" font-size="26.0" style="font-family:'Liberation Serif',serif;stroke:#000;stroke-width:0.15px">1</text><text transform="translate(22.60,529.18) rotate(-90) scale(0.9892,1)" font-size="26.0" style="font-family:'Liberation Serif',serif;stroke:#000;stroke-width:0.15px">0</text><text transform="translate(13.60,515.52) rotate(-90) scale(0.9336,1)" font-size="15.0" style="font-family:'Liberation Serif',serif;stroke:#000;stroke-width:0.15px">-13</text><text transform="translate(22.40,488.86) rotate(-90) scale(0.9985,1)" font-size="26.0" style="font-family:'Liberation Serif',serif;stroke:#000;stroke-width:0.15px">s</text><text transform="translate(13.60,479.35) rotate(-90) scale(0.9810,1)" font-size="15.0" style="font-family:'Liberation Serif',serif;stroke:#000;stroke-width:0.15px">-2</text><text transform="translate(22.30,727.15) rotate(-90) scale(0.9561,1)" font-size="26.0" style="font-family:'Liberation Serif',serif;stroke:#000;stroke-width:0.15px">Δt</text><text transform="translate(24.00,703.14) rotate(-90) scale(0.9363,1)" font-size="15.0" style="font-family:'Liberation Serif',serif;stroke:#000;stroke-width:0.15px">h</text><text transform="translate(22.30,688.50) rotate(-90) scale(0.9328,1)" font-size="26.0" style="font-family:'Liberation Serif',serif;stroke:#000;stroke-width:0.15px">-</text><text transform="translate(22.30,673.59) rotate(-90) scale(0.9035,1)" font-size="26.0" style="font-family:'Liberation Serif',serif;stroke:#000;stroke-width:0.15px">Δt</text><text transform="translate(24.00,650.10) rotate(-90) scale(1.0093,1)" font-size="15.0" style="font-family:'Liberation Serif',serif;stroke:#000;stroke-width:0.15px">l</text><text transform="translate(22.40,639.00) rotate(-90) scale(1.1352,1)" font-size="26.0" style="font-family:'Liberation Serif',serif;stroke:#000;stroke-width:0.15px">/</text><text transform="translate(22.40,623.61) rotate(-90) scale(0.9426,1)" font-size="26.0" style="font-family:'Liberation Serif',serif;stroke:#000;stroke-width:0.15px">ms</text></svg>
</body></html>
